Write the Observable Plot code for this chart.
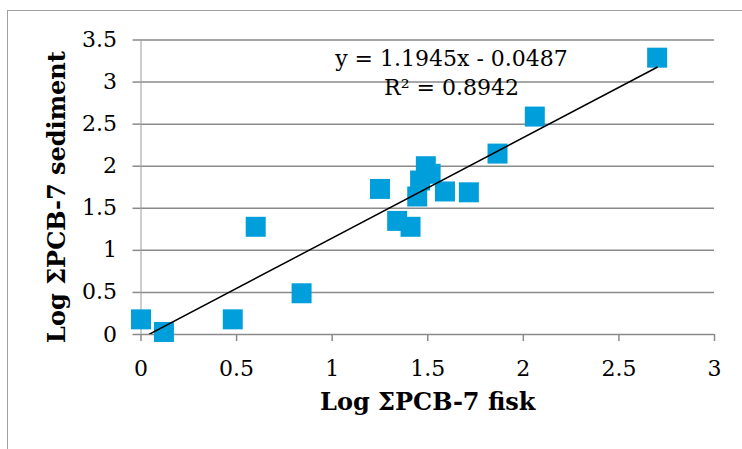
<!DOCTYPE html>
<html><head><meta charset="utf-8">
<script src="https://cdn.jsdelivr.net/npm/d3@7"></script>
<script src="https://cdn.jsdelivr.net/npm/@observablehq/plot@0.6"></script>
<style>
html,body{margin:0;padding:0;background:#fff;overflow:hidden;}
#wrap{position:relative;width:742px;height:449px;overflow:hidden;}
#chart{position:absolute;left:0;top:0;}
#border{position:absolute;left:7px;top:10px;width:800px;height:500px;border-left:1px solid #a0a0a0;border-top:1px solid #a0a0a0;pointer-events:none;}
</style></head><body>
<div id="wrap"><div id="chart"></div><div id="border"></div></div>
<script>
// Log ΣPCB-7 in fish (x) and sediment (y)
const fisk     = [0.00, 0.12, 0.48, 0.60, 0.84, 1.25, 1.34, 1.41, 1.445, 1.46, 1.49, 1.515, 1.59, 1.715, 1.865, 2.06, 2.70];
const sediment = [0.18, 0.03, 0.18, 1.28, 0.49, 1.73, 1.35, 1.28, 1.64, 1.83, 2.00, 1.91, 1.70, 1.69, 2.15, 2.59, 3.29];

const xTicks = [0, 0.5, 1, 1.5, 2, 2.5, 3];
const yTicks = [0, 0.5, 1, 1.5, 2, 2.5, 3, 3.5];
const xLabel = "Log ΣPCB-7 fisk";
const yLabel = "Log ΣPCB-7 sediment";

// Linear trendline as printed on the chart
const slope = 1.1945;
const intercept = -0.0487;
const equationLines = ["y = 1.1945x - 0.0487", "R² = 0.8942"];

const points = fisk.map((x, i) => ({x, y: sediment[i]}));
const trend = d3.extent(fisk).map(x => ({x, y: slope * x + intercept}));

const chart = Plot.plot({
  width: 742,
  height: 449,
  marginLeft: 140.5,
  marginRight: 28,
  marginTop: 39.5,
  marginBottom: 115,
  style: {fontFamily: "'DejaVu Serif', serif", fontSize: "22px", color: "#000", background: "transparent", overflow: "visible"},
  x: {domain: [0, 3]},
  y: {domain: [0, 3.5]},
  marks: [
    Plot.gridY(yTicks, {stroke: "#8a8a8a", strokeOpacity: 1, strokeWidth: 1.5}),
    Plot.ruleX([0], {y1: 0, y2: 3.5, stroke: "#9a9a9a", strokeWidth: 1}),
    Plot.axisY(yTicks, {tickSize: 8, tickPadding: 16, stroke: "#8a8a8a", strokeWidth: 1.5, label: null, tickFormat: d => String(d)}),
    Plot.axisX(xTicks, {tickSize: 7, tickPadding: 19, stroke: "#8a8a8a", strokeWidth: 1.5, label: null, tickFormat: d => String(d)}),
    Plot.dot(points, {x: "x", y: "y", symbol: "square", r: 11.28, fill: "#009edb", stroke: null}),
    Plot.line(trend, {x: "x", y: "y", stroke: "#000", strokeWidth: 1.5, clip: true}),
    Plot.text([equationLines.join("\n")], {frameAnchor: "top", dx: 23.75, dy: 5, lineAnchor: "top", lineHeight: 1.33, fontSize: 22}),
    Plot.text([xLabel], {frameAnchor: "bottom", textAnchor: "middle", dy: 75.3, fontWeight: "bold", fontSize: 24}),
    Plot.text([yLabel], {frameAnchor: "left", textAnchor: "middle", rotate: -90, dx: -83.2, dy: 9.75, fontWeight: "bold", fontSize: 24})
  ]
});
document.getElementById("chart").appendChild(chart);
</script>
</body></html>
